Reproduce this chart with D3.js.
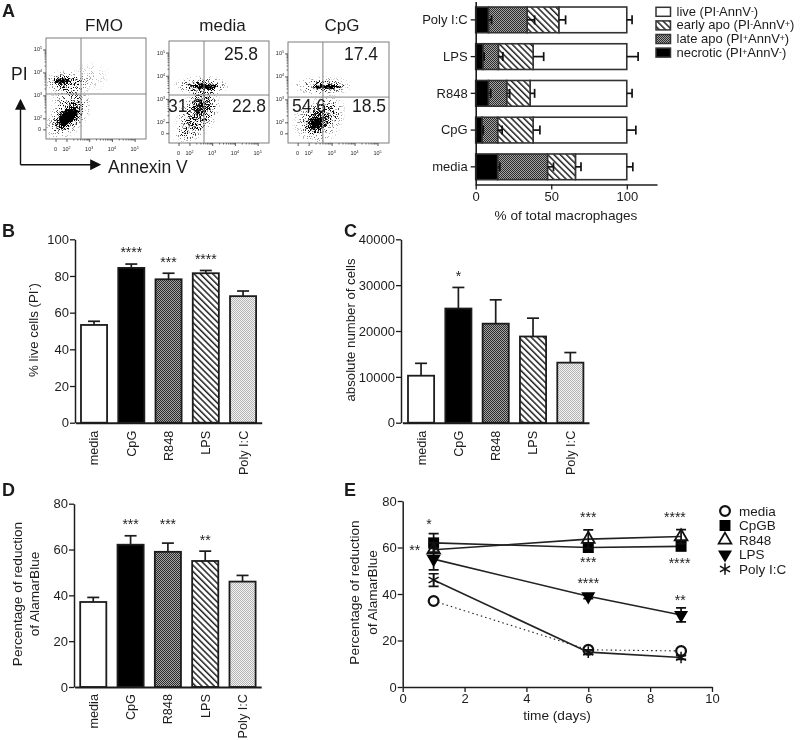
<!DOCTYPE html>
<html>
<head>
<meta charset="utf-8">
<script src="https://cdn.jsdelivr.net/npm/d3@7/dist/d3.min.js"></script>
<style>
html,body{margin:0;padding:0;background:#fff}
svg{display:block;filter:blur(0.3px)}
text{font-family:"Liberation Sans",Arial,sans-serif;fill:#1c1c1c}
</style>
</head>
<body>
<div id="chart"></div>
<script>
// ---------- data ----------
const treatments = ["media","CpG","R848","LPS","Poly I:C"];
const liveCells = [53.3,84.4,78.2,81.5,69];
const liveCellsTop = [55.3,86.5,81.5,83,71.8];
const liveCellsStars = ["","****","***","****",""];
const liveCellsStarY = [0,93.8,88,90,0];
const cellCount = [10250,24900,21600,18800,13100];
const cellCountTop = [12950,29500,26800,22800,15300];
const cellCountStars = ["","*","","",""];
const cellCountStarY = [0,32200,0,0,0];
const alamar = [37.1,62.1,59,55,46];
const alamarTop = [39.1,66,62.8,59.3,48.7];
const alamarStars = ["","***","***","**",""];
const alamarStarY = [0,71.6,71.6,64.6,0];

const stackCats = ["Poly I:C","LPS","R848","CpG","media"];
const stackKeys = ["necrotic","late","early","live"];
const stackLegend = [
  ["live (PI","-","AnnV","-",")"],
  ["early apo (PI","-","AnnV","+",")"],
  ["late apo (PI","+","AnnV","+",")"],
  ["necrotic (PI","+","AnnV","-",")"]
];
const necroticEnd = [8.4,4.8,8.4,4.2,14.5];
const necroticErr = [10.5,5.6,10,5,16];
const lateEnd = [34,15,20.5,14.5,47.5];
const lateErr = [39,18,22.5,17.5,51.5];
const earlyEnd = [55,38,36,38,66];
const earlyErr = [59.5,45,39,42.5,69.7];
const liveEnd = [100,100,100,100,100];
const liveErr = [103.5,107.5,103.5,106,104];

const days = [1,6,9];
const timeNames = ["media","CpGB","R848","LPS","Poly I:C"];
const mediaTime = [37,16,15.5];
const mediaTimeErr = [0.8,0.8,0.8];
const cpgTime = [62,60,60.5];
const cpgTimeErr = [4,2,1.5];
const r848Time = [59,63.6,64.7];
const r848TimeErr = [3,4,3];
const lpsTime = [55,39,31];
const lpsTimeErr = [4.6,1,3];
const polyTime = [46,15,12.7];
const polyTimeErr = [2.7,1,0.8];
const timeStars = ["*","**","***","****","***","****","****","**"];
const timeStarX = [0.85,0.39,6,8.8,6,8.95,6,8.97];
const timeStarY = [70.7,59.4,73.5,73.5,54,53.8,45.1,38];

const flowNames = ["FMO","media","CpG"];
const flowUpperRight = ["","25.8","17.4"];
const flowLowerLeft = ["","31.3","54.6"];
const flowLowerRight = ["","22.8","18.5"];
const flowGateX = [2.64,2.64,2.62];
const flowGateY = [3.06,3.17,3.1];
const flowMajor = [2,3,4,5];
const flowZero = 1.52;
const flowMinorFactors = [2,3,4,5,6,7,8,9];
// populations: log10 Annexin V, log10 PI, half-widths in decades, tilt in degrees, density
const fmoPopulations = [
  [1.98,3.59,1.15,0.55,0,0.34],[1.79,3.62,0.50,0.22,0,0.8],
  [2.16,2.80,1.00,1.00,0,0.22],[3.04,3.80,1.05,0.75,0,0.08],
  [2.06,2.04,1.30,0.78,-45,0.42],[2.06,2.04,0.85,0.40,-45,1.0],[2.06,2.04,0.62,0.28,-45,1.0]
];
const mediaPopulations = [
  [2.54,3.56,1.30,0.46,0,0.46],[2.69,3.53,0.72,0.16,0,0.85],
  [2.39,2.39,1.35,0.90,-55,0.42],[2.60,2.74,0.62,0.82,0,0.36],
  [1.94,1.66,0.85,0.60,-30,0.26]
];
const cpgPopulations = [
  [2.62,3.58,1.40,0.46,0,0.36],[2.84,3.55,0.85,0.14,0,0.85],
  [2.40,2.05,1.20,1.10,-30,0.36],[2.35,1.98,0.62,0.50,-40,0.9],
  [2.93,2.53,0.75,0.75,0,0.22]
];
const flowPopulations = [fmoPopulations,mediaPopulations,cpgPopulations];

// ---------- canvas ----------
const svg = d3.select("#chart").append("svg").attr("width",800).attr("height",740);
const defs = svg.append("defs");

function pattern(id,size,draw,transform){
  const p = defs.append("pattern").attr("id",id).attr("patternUnits","userSpaceOnUse")
    .attr("width",size).attr("height",size);
  if(transform) p.attr("patternTransform",transform);
  draw(p);
}
pattern("checker",2,p=>{
  p.append("rect").attr("width",2).attr("height",2).attr("fill","#a6a6a6");
  p.append("rect").attr("width",1).attr("height",1).attr("fill","#2a2a2a");
  p.append("rect").attr("x",1).attr("y",1).attr("width",1).attr("height",1).attr("fill","#2a2a2a");
});
pattern("hatch",4.4,p=>{
  p.append("rect").attr("width",4.4).attr("height",4.4).attr("fill","#fff");
  p.append("rect").attr("width",1.5).attr("height",4.4).attr("fill","#222");
},"rotate(-45)");
pattern("speck",2,p=>{
  p.append("rect").attr("width",2).attr("height",2).attr("fill","#f2f2f2");
  p.append("rect").attr("width",1).attr("height",1).attr("fill","#b4b4b4");
  p.append("rect").attr("x",1).attr("y",1).attr("width",1).attr("height",1).attr("fill","#b4b4b4");
});
const rg = defs.append("radialGradient").attr("id","blob");
rg.append("stop").attr("offset","0%").attr("stop-color","#000").attr("stop-opacity",1);
rg.append("stop").attr("offset","40%").attr("stop-color","#000").attr("stop-opacity",0.62);
rg.append("stop").attr("offset","70%").attr("stop-color","#000").attr("stop-opacity",0.24);
rg.append("stop").attr("offset","100%").attr("stop-color","#000").attr("stop-opacity",0);

[11,29,47].forEach(seed=>{
  const f = defs.append("filter").attr("id","stipple"+seed)
    .attr("x","0").attr("y","0").attr("width","1").attr("height","1")
    .attr("color-interpolation-filters","sRGB");
  f.append("feTurbulence").attr("type","fractalNoise").attr("baseFrequency",1.37)
    .attr("numOctaves",1).attr("seed",seed).attr("result","noise");
  f.append("feColorMatrix").attr("in","noise").attr("type","matrix")
    .attr("values","0 0 0 0 0  0 0 0 0 0  0 0 0 0 0  3.4 0 0 0 -1.2").attr("result","grain");
  f.append("feComposite").attr("in","SourceAlpha").attr("in2","grain").attr("operator","arithmetic")
    .attr("k1",0).attr("k2",1.6).attr("k3",1).attr("k4",-1).attr("result","mix");
  const ct = f.append("feComponentTransfer").attr("in","mix").attr("result","hard");
  ct.append("feFuncA").attr("type","linear").attr("slope",3).attr("intercept",0);
  f.append("feGaussianBlur").attr("in","hard").attr("stdDeviation",0.3);
});

function rich(sel,parts,shift){
  parts.forEach((t,i)=>{
    const sp = sel.append("tspan").text(t);
    if(i%2===1) sp.attr("baseline-shift",shift||"super").attr("font-size","66%");
  });
  return sel;
}
function label(x,y,t,size,anchor,parent){
  return (parent||svg).append("text").attr("x",x).attr("y",y).attr("font-size",size)
    .attr("text-anchor",anchor||"start").text(t);
}
function vLabel(x,y,t,size){
  return svg.append("text").attr("transform",`translate(${x},${y}) rotate(-90)`)
    .attr("font-size",size).attr("text-anchor","middle").text(t);
}
function styleAxis(g,width,size){
  g.selectAll("path.domain").attr("stroke","#1c1c1c").attr("stroke-width",width).attr("fill","none");
  g.selectAll(".tick line").attr("stroke","#1c1c1c").attr("stroke-width",1.3);
  g.selectAll(".tick text").attr("font-size",size).attr("font-family",'"Liberation Sans",Arial,sans-serif').attr("fill","#1c1c1c");
}
label(2,17,"A",18).attr("font-weight","bold");
label(2,237,"B",18).attr("font-weight","bold");
label(344,237,"C",18).attr("font-weight","bold");
label(2,496,"D",18).attr("font-weight","bold");
label(344,496,"E",18).attr("font-weight","bold");

// ---------- A: flow plots ----------
const flowFrames = [[46,146,38,139],[169,269,41,143],[288,389,42,143]];
const flowSeeds = [11,29,47];
flowNames.forEach((name,i)=>{
  const [l,r,t,b] = flowFrames[i];
  const x = d3.scaleLinear().domain([1.1,5.5]).range([l,r]);
  const y = d3.scaleLinear().domain([1.1,5.5]).range([b,t]);
  const clipId = "flowclip"+i;
  defs.append("clipPath").attr("id",clipId).append("rect").attr("x",l).attr("y",t).attr("width",r-l).attr("height",b-t);
  const clipG = svg.append("g").attr("clip-path",`url(#${clipId})`);
  const cloud = clipG.append("g").attr("filter",`url(#stipple${flowSeeds[i]})`);
  cloud.append("rect").attr("x",l).attr("y",t).attr("width",r-l).attr("height",b-t).attr("fill","none");
  cloud.selectAll("ellipse").data(flowPopulations[i]).join("ellipse")
    .attr("transform",d=>`translate(${x(d[0])},${y(d[1])}) rotate(${d[4]})`)
    .attr("rx",d=>x(1.1+d[2])-l).attr("ry",d=>y(1.1)-y(1.1+d[3]))
    .attr("fill","url(#blob)").attr("fill-opacity",d=>d[5]);
  svg.append("rect").attr("x",l).attr("y",t).attr("width",r-l).attr("height",b-t)
    .attr("fill","none").attr("stroke","#7d7d7d").attr("stroke-width",1);
  svg.append("line").attr("x1",x(flowGateX[i])).attr("x2",x(flowGateX[i])).attr("y1",t).attr("y2",b)
    .attr("stroke","#808080").attr("stroke-width",1);
  svg.append("line").attr("x1",l).attr("x2",r).attr("y1",y(flowGateY[i])).attr("y2",y(flowGateY[i]))
    .attr("stroke","#808080").attr("stroke-width",1);

  const minor = flowMajor.slice(0,3).flatMap(d=>flowMinorFactors.map(k=>d+Math.log10(k)));
  const mx = svg.append("g").attr("transform",`translate(0,${b})`).call(d3.axisBottom(x).tickValues(minor).tickSize(1.5).tickFormat(""));
  const my = svg.append("g").attr("transform",`translate(${l},0)`).call(d3.axisLeft(y).tickValues(minor).tickSize(1.5).tickFormat(""));
  [mx,my].forEach(g=>{g.select("path.domain").remove();g.selectAll(".tick line").attr("stroke","#333").attr("stroke-width",0.7);});
  const ax = svg.append("g").attr("transform",`translate(0,${b})`).call(d3.axisBottom(x).tickValues(flowMajor.concat([flowZero])).tickSize(3).tickFormat(""));
  const ay = svg.append("g").attr("transform",`translate(${l},0)`).call(d3.axisLeft(y).tickValues(flowMajor.concat([flowZero])).tickSize(3).tickFormat(""));
  [ax,ay].forEach(g=>{g.select("path.domain").remove();g.selectAll(".tick line").attr("stroke","#333").attr("stroke-width",0.8);});
  flowMajor.forEach(d=>{
    const tx = svg.append("text").attr("x",x(d)).attr("y",b+12).attr("font-size",5.5).attr("text-anchor","middle");
    rich(tx,["10",String(d)]);
    const ty = svg.append("text").attr("x",l-4).attr("y",y(d)+2).attr("font-size",5.5).attr("text-anchor","end");
    rich(ty,["10",String(d)]);
  });
  label(x(flowZero),b+12,"0",5.5,"middle");
  label(l-5,y(flowZero)+2,"0",5.5,"end");

  label((l+r)/2+(i===0?8:3.5),31,name,17,"middle");
  if(flowUpperRight[i]){
    label(r-11,60,flowUpperRight[i],17.5,"end");
    label(l-1,112,flowLowerLeft[i],17.5,"start").attr("dx",i===2?5:0);
    label(r-3,112,flowLowerRight[i],17.5,"end");
  }
});
svg.append("defs").append("marker").attr("id","head").attr("markerUnits","userSpaceOnUse")
  .attr("viewBox","0 0 10 10").attr("refX",8).attr("refY",5).attr("markerWidth",11).attr("markerHeight",11).attr("orient","auto")
  .append("path").attr("d","M0,0L10,5L0,10Z").attr("fill","#111");
svg.append("path").attr("d","M20.5,164.7V101").attr("stroke","#111").attr("stroke-width",1.4).attr("fill","none").attr("marker-end","url(#head)");
svg.append("path").attr("d","M20.5,164.7H99").attr("stroke","#111").attr("stroke-width",1.4).attr("fill","none").attr("marker-end","url(#head)");
label(11,80,"PI",17.5);
label(108,173,"Annexin V",17.5);

// ---------- A: stacked bars ----------
const stackX = d3.scaleLinear().domain([0,120]).range([475.7,657]);
const stackY = d3.scaleBand().domain(stackCats).range([1.5,185.2]).paddingInner(0.3).paddingOuter(0.15);
const stackFills = {necrotic:"#000",late:"url(#checker)",early:"url(#hatch)",live:"#fff"};
const stackEnds = {necrotic:necroticEnd,late:lateEnd,early:earlyEnd,live:liveEnd};
const stackErrs = {necrotic:necroticErr,late:lateErr,early:earlyErr,live:liveErr};
const stackStarts = {necrotic:stackCats.map(()=>0),late:necroticEnd,early:lateEnd,live:earlyEnd};
stackKeys.slice().reverse().forEach(key=>{
  svg.append("g").selectAll("rect").data(stackCats).join("rect")
    .attr("x",(c,i)=>stackX(stackStarts[key][i])).attr("y",c=>stackY(c))
    .attr("width",(c,i)=>stackX(stackEnds[key][i])-stackX(stackStarts[key][i]))
    .attr("height",stackY.bandwidth())
    .attr("fill",stackFills[key]).attr("stroke","#333").attr("stroke-width",1.6);
});
stackKeys.forEach(key=>{
  const g = svg.append("g").attr("stroke","#111").attr("stroke-width",1.7).attr("fill","none");
  stackCats.forEach((c,i)=>{
    const cy = stackY(c)+stackY.bandwidth()/2;
    g.append("line").attr("x1",stackX(stackEnds[key][i])).attr("x2",stackX(stackErrs[key][i])).attr("y1",cy).attr("y2",cy);
    g.append("line").attr("x1",stackX(stackErrs[key][i])).attr("x2",stackX(stackErrs[key][i])).attr("y1",cy-4.5).attr("y2",cy+4.5);
  });
});
const stackAxisX = svg.append("g").attr("transform","translate(0,184.5)")
  .call(d3.axisBottom(stackX).tickValues([0,50,100]).tickSize(5).tickSizeOuter(0).tickPadding(2));
styleAxis(stackAxisX,1.6,13);
const stackAxisY = svg.append("g").attr("transform","translate(475.7,0)")
  .call(d3.axisLeft(stackY).tickSize(5).tickSizeOuter(0).tickPadding(3));
styleAxis(stackAxisY,1.6,13);
label(566,220,"% of total macrophages",13.6,"middle");
const legendFills = ["#fff","url(#hatch)","url(#checker)","#000"];
stackLegend.forEach((parts,i)=>{
  const yy = 7.3+i*13.6;
  svg.append("rect").attr("x",656).attr("y",yy).attr("width",14.5).attr("height",9)
    .attr("fill",legendFills[i]).attr("stroke","#333").attr("stroke-width",1.5);
  rich(svg.append("text").attr("x",676.5).attr("y",yy+8.5).attr("font-size",13),parts,"25%");
});

// ---------- B, C, D: bar charts ----------
const barFills = ["#fff","#000","url(#checker)","url(#hatch)","url(#speck)"];
function barChart(o){
  const x = d3.scaleBand().domain(treatments).range(o.xr).paddingInner(0.3).paddingOuter(0.15);
  const y = d3.scaleLinear().domain([0,o.max]).range(o.yr);
  const g = svg.append("g");
  treatments.forEach((t,i)=>{
    const cx = x(t)+x.bandwidth()/2;
    g.append("line").attr("x1",cx).attr("x2",cx).attr("y1",y(o.values[i])).attr("y2",y(o.tops[i]))
      .attr("stroke","#1c1c1c").attr("stroke-width",1.7);
    g.append("line").attr("x1",cx-6).attr("x2",cx+6).attr("y1",y(o.tops[i])).attr("y2",y(o.tops[i]))
      .attr("stroke","#1c1c1c").attr("stroke-width",1.7);
    if(o.stars[i]) label(cx,y(o.starY[i])+6,o.stars[i],14,"middle").attr("fill","#333");
  });
  g.selectAll("rect").data(treatments).join("rect")
    .attr("x",t=>x(t)).attr("width",x.bandwidth())
    .attr("y",(t,i)=>y(o.values[i])).attr("height",(t,i)=>y(0)-y(o.values[i]))
    .attr("fill",(t,i)=>barFills[i]).attr("stroke","#1c1c1c").attr("stroke-width",1.8);
  const ay = svg.append("g").attr("transform",`translate(${o.axisX},0)`)
    .call(d3.axisLeft(y).tickValues(o.ticks).tickFormat(d3.format("d")).tickSize(5).tickSizeOuter(0).tickPadding(1));
  styleAxis(ay,1.5,13);
  const ax = svg.append("g").attr("transform",`translate(0,${o.yr[0]})`)
    .call(d3.axisBottom(x).tickSize(0).tickSizeOuter(0).tickPadding(9));
  styleAxis(ax,1.9,12.7);
  ax.selectAll(".tick text").attr("transform","rotate(-90)").attr("text-anchor","end").attr("x",o.labelGap).attr("y",0).attr("dy","0.35em");
}
barChart({values:liveCells,tops:liveCellsTop,stars:liveCellsStars,starY:liveCellsStarY,max:100,ticks:[0,20,40,60,80,100],xr:[75.4,261.7],yr:[422.7,239.3],axisX:75,labelGap:-8});
barChart({values:cellCount,tops:cellCountTop,stars:cellCountStars,starY:cellCountStarY,max:40000,ticks:[0,10000,20000,30000,40000],xr:[402.4,589],yr:[422.7,239.3],axisX:401,labelGap:-8});
barChart({values:alamar,tops:alamarTop,stars:alamarStars,starY:alamarStarY,max:80,ticks:[0,20,40,60,80],xr:[74.6,261.2],yr:[687,503.7],axisX:74,labelGap:-7});
rich(svg.append("text").attr("transform","translate(38,330) rotate(-90)").attr("font-size",13.3).attr("text-anchor","middle"),["% live cells (PI","-",")"]);
vLabel(355,330,"absolute number of cells",13.2);
vLabel(22,594,"Percentage of reduction",13.6);
vLabel(39,594,"of AlamarBlue",13.6);

// ---------- E: time course ----------
const tx = d3.scaleLinear().domain([0,10]).range([402.7,712]);
const ty = d3.scaleLinear().domain([0,80]).range([687,501]);
const timeValues = [mediaTime,cpgTime,r848Time,lpsTime,polyTime];
const timeErrs = [mediaTimeErr,cpgTimeErr,r848TimeErr,lpsTimeErr,polyTimeErr];
const timeLine = d3.line().x((d,i)=>tx(days[i])).y(d=>ty(d));
const symbols = [
  {type:d3.symbolCircle,size:75,fill:"#fff",stroke:2.2,rot:0},
  {type:d3.symbolSquare,size:120,fill:"#000",stroke:0,rot:0},
  {type:d3.symbolTriangle,size:70,fill:"none",stroke:1.8,rot:0},
  {type:d3.symbolTriangle,size:85,fill:"#000",stroke:0,rot:180},
  {type:d3.symbolAsterisk,size:95,fill:"none",stroke:1.5,rot:0}
];
function marker(parent,i,cx,cy){
  const s = symbols[i];
  parent.append("path").attr("d",d3.symbol().type(s.type).size(s.size)())
    .attr("transform",`translate(${cx},${cy}) rotate(${s.rot})`)
    .attr("fill",s.fill).attr("stroke",s.stroke?"#111":"none").attr("stroke-width",s.stroke);
}
timeValues.forEach((vals,i)=>{
  const g = svg.append("g");
  g.append("path").attr("d",timeLine(vals)).attr("fill","none").attr("stroke","#222")
    .attr("stroke-width",i===0?1.1:1.6).attr("stroke-dasharray",i===0?"1.5,3":null);
  vals.forEach((v,k)=>{
    if(i===0) return;
    const cx = tx(days[k]);
    const lo = ty(v-timeErrs[i][k]), hi = ty(v+timeErrs[i][k]);
    g.append("path").attr("d",`M${cx-5},${hi}H${cx+5}M${cx},${hi}V${lo}M${cx-5},${lo}H${cx+5}`)
      .attr("fill","none").attr("stroke","#111").attr("stroke-width",1.7);
  });
  vals.forEach((v,k)=>marker(g,i,tx(days[k]),ty(v)));
});
timeStars.forEach((t,i)=>label(tx(timeStarX[i]),ty(timeStarY[i])+6,t,14,"middle").attr("fill","#333"));
const eay = svg.append("g").attr("transform","translate(402.7,0)")
  .call(d3.axisLeft(ty).tickValues([0,20,40,60,80]).tickSize(5).tickSizeOuter(0).tickPadding(1));
styleAxis(eay,1.5,13);
const eax = svg.append("g").attr("transform","translate(0,687)")
  .call(d3.axisBottom(tx).tickValues([0,2,4,6,8,10]).tickSize(5).tickSizeOuter(0).tickPadding(2));
styleAxis(eax,1.5,13);
label(557,720,"time (days)",13.7,"middle");
vLabel(359,592.5,"Percentage of reduction",13.6);
vLabel(377,592.5,"of AlamarBlue",13.6);
timeNames.forEach((n,i)=>{
  const yy = 511+i*14.5;
  marker(svg,i,725,yy);
  label(739,yy+4.5,n,13.5);
});
</script>
</body>
</html>
